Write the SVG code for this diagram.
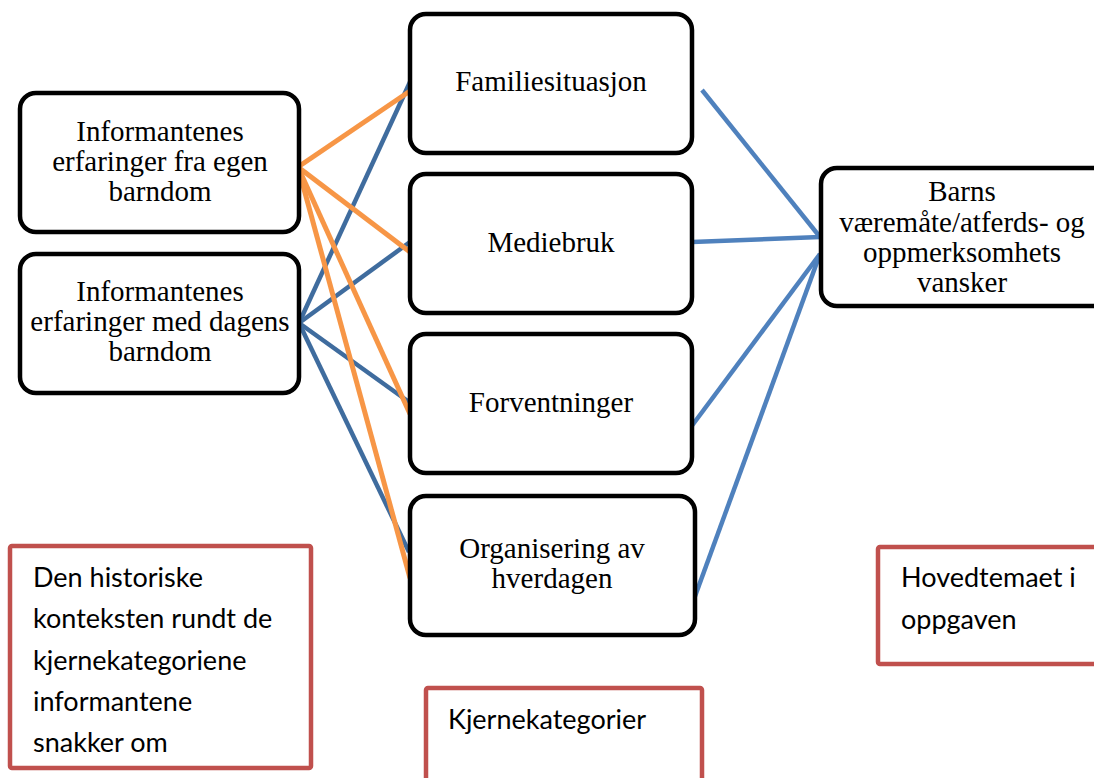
<svg xmlns="http://www.w3.org/2000/svg" width="1094" height="778" viewBox="0 0 1094 778">
  <style>
    .node { fill: #ffffff; stroke: #000000; stroke-width: 4.5; }
    .note { fill: #ffffff; stroke: #C0504D; stroke-width: 4.5; }
    .label { font-family: "Liberation Serif", "Times New Roman", serif; font-size: 29px; fill: #000000; text-anchor: middle; }
    .notetext { font-family: Lato, "Open Sans", sans-serif; font-size: 27px; fill: #000000; }
    .orange { stroke: #F79646; stroke-width: 5; fill: none; }
    .blue-dark { stroke: #3F6C9E; stroke-width: 4.5; fill: none; }
    .blue { stroke: #4F81BD; stroke-width: 4.5; fill: none; }
  </style>
  <rect width="1094" height="778" fill="#ffffff"/>

  <!-- connectors -->
  <g id="connectors">
    <!-- from "Informantenes erfaringer med dagens barndom" -->
    <line class="blue-dark" x1="299" y1="323" x2="410" y2="82"/>
    <line class="blue-dark" x1="299" y1="323" x2="410" y2="242"/>
    <line class="blue-dark" x1="299" y1="323" x2="409" y2="402"/>
    <line class="blue-dark" x1="299" y1="323" x2="409" y2="552"/>
    <!-- from "Informantenes erfaringer fra egen barndom" -->
    <line class="orange" x1="298" y1="167" x2="410" y2="91"/>
    <line class="orange" x1="298" y1="167" x2="410" y2="252"/>
    <line class="orange" x1="298" y1="167" x2="410" y2="414"/>
    <line class="orange" x1="298" y1="167" x2="410" y2="578"/>
    <!-- core categories to main theme -->
    <line class="blue" x1="702" y1="90" x2="820" y2="237"/>
    <line class="blue" x1="692" y1="242" x2="820" y2="237"/>
    <line class="blue" x1="691" y1="427" x2="820" y2="254"/>
    <line class="blue" x1="690" y1="610" x2="820" y2="254"/>
  </g>

  <g id="egen-barndom">
    <rect class="node" x="20" y="93" width="279" height="139" rx="16"/>
    <text class="label" x="160" y="141">Informantenes</text>
    <text class="label" x="160" y="171">erfaringer fra egen</text>
    <text class="label" x="160" y="201">barndom</text>
  </g>

  <g id="dagens-barndom">
    <rect class="node" x="20" y="254" width="279" height="139" rx="16"/>
    <text class="label" x="160" y="301">Informantenes</text>
    <text class="label" x="160" y="331">erfaringer med dagens</text>
    <text class="label" x="160" y="361">barndom</text>
  </g>

  <g id="familiesituasjon">
    <rect class="node" x="410" y="14" width="282" height="139" rx="16"/>
    <text class="label" x="551" y="91">Familiesituasjon</text>
  </g>

  <g id="mediebruk">
    <rect class="node" x="410" y="174" width="282" height="139" rx="16"/>
    <text class="label" x="551" y="252">Mediebruk</text>
  </g>

  <g id="forventninger">
    <rect class="node" x="410" y="334" width="282" height="139" rx="16"/>
    <text class="label" x="551" y="412">Forventninger</text>
  </g>

  <g id="organisering">
    <rect class="node" x="410" y="496" width="285" height="139" rx="16"/>
    <text class="label" x="552" y="558">Organisering av</text>
    <text class="label" x="552" y="588">hverdagen</text>
  </g>

  <g id="barns-vaeremaate">
    <rect class="node" x="821" y="168" width="290" height="138" rx="16"/>
    <text class="label" x="962" y="201">Barns</text>
    <text class="label" x="962" y="232">væremåte/atferds- og</text>
    <text class="label" x="962" y="262">oppmerksomhets</text>
    <text class="label" x="962" y="292">vansker</text>
  </g>

  <g id="historisk-kontekst">
    <rect class="note" x="10" y="546" width="301" height="222" rx="2"/>
    <text class="notetext" x="33" y="587">Den historiske</text>
    <text class="notetext" x="33" y="628">konteksten rundt de</text>
    <text class="notetext" x="33" y="670">kjernekategoriene</text>
    <text class="notetext" x="33" y="711">informantene</text>
    <text class="notetext" x="33" y="752">snakker om</text>
  </g>

  <g id="kjernekategorier">
    <rect class="note" x="426" y="688" width="276" height="110" rx="2"/>
    <text class="notetext" x="448" y="729">Kjernekategorier</text>
  </g>

  <g id="hovedtemaet">
    <rect class="note" x="878" y="547" width="240" height="117" rx="2"/>
    <text class="notetext" x="901" y="587">Hovedtemaet i</text>
    <text class="notetext" x="901" y="629">oppgaven</text>
  </g>
</svg>
